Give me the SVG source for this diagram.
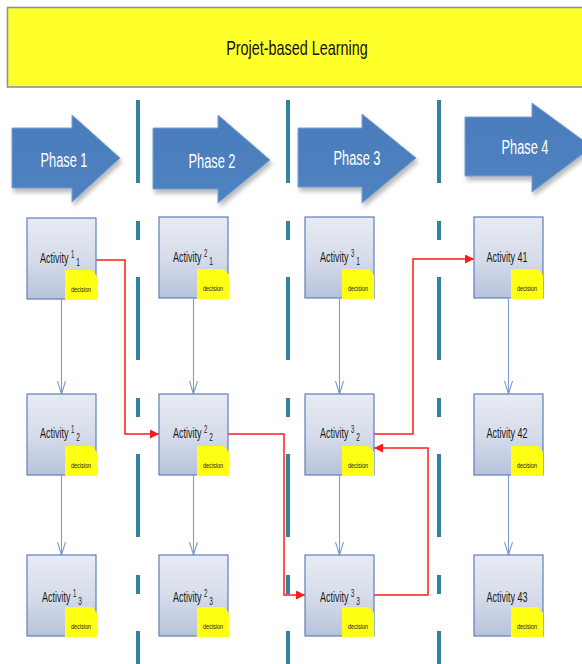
<svg xmlns="http://www.w3.org/2000/svg" width="582" height="664" viewBox="0 0 582 664">
<defs>
<style>
.t{font-family:"Liberation Sans",Arial,sans-serif;}
.sep{stroke:#31849b;stroke-width:4;stroke-dasharray:83 38 19 37;fill:none}
.phase{fill:url(#ag);stroke:#7aa0d4;stroke-width:1;filter:url(#sh)}
.ptxt{fill:#ffffff;font-size:20px;text-anchor:middle}
.box{fill:url(#bg);stroke:#5f7fb8;stroke-width:1.2}
.note{fill:#ffff14}
.atxt{fill:#1a1a1a;font-size:15px;text-anchor:middle}
.dtxt{fill:#1a1a1a;font-size:8px;text-anchor:middle}
.blue{stroke:#7b9bd0;stroke-width:1.1;fill:none;marker-end:url(#openV)}
.red{stroke:#ff1a1a;stroke-width:1.5;fill:none;marker-end:url(#redA)}
</style>
<linearGradient id="ag" x1="0" y1="0" x2="0" y2="1">
<stop offset="0" stop-color="#4a7cbb"/>
<stop offset="1" stop-color="#4f82c0"/>
</linearGradient>
<linearGradient id="bg" x1="0" y1="0" x2="0" y2="1">
<stop offset="0" stop-color="#e8ebf3"/>
<stop offset="0.5" stop-color="#d6dcea"/>
<stop offset="1" stop-color="#b7c3db"/>
</linearGradient>
<filter id="sh" x="-10%" y="-10%" width="130%" height="140%">
<feDropShadow dx="2" dy="4" stdDeviation="2" flood-color="#777" flood-opacity="0.5"/>
</filter>
<marker id="openV" viewBox="0 0 14 10" refX="13" refY="5" markerWidth="14" markerHeight="10" markerUnits="userSpaceOnUse" orient="auto">
<path d="M0,1 L13,5 L0,9" fill="none" stroke="#7b9bd0" stroke-width="1.1"/>
</marker>
<marker id="redA" viewBox="0 0 10 10" refX="10" refY="5" markerWidth="10" markerHeight="9" markerUnits="userSpaceOnUse" orient="auto">
<path d="M0,0 L10,5 L0,10 Z" fill="#ff1a1a"/>
</marker>
</defs>
<rect width="582" height="664" fill="#ffffff"/>

<g id="title">
<rect x="7.5" y="7.5" width="590" height="79.5" fill="#ffff2a" stroke="#7f8fa6" stroke-width="1.5"/>
<text class="t" transform="translate(297,55) scale(0.72,1)" font-size="20" text-anchor="middle" fill="#111">Projet-based Learning</text>
</g>

<g id="separators">
<line class="sep" x1="138" y1="100" x2="138" y2="664"/>
<line class="sep" x1="288" y1="100" x2="288" y2="664"/>
<line class="sep" x1="439" y1="100" x2="439" y2="664"/>
</g>

<g id="phase1">
<path class="phase" d="M12,128 H72 V115 L120,158 L72,202 V188 H12 Z"/>
<text class="t ptxt" transform="translate(64,167) scale(0.64,1)">Phase 1</text>
</g>
<g id="phase2">
<path class="phase" d="M153,128 H218 V115 L270,160 L218,203 V189 H153 Z"/>
<text class="t ptxt" transform="translate(212,168) scale(0.64,1)">Phase 2</text>
</g>
<g id="phase3">
<path class="phase" d="M298,128 H362 V114 L416,158 L362,203 V187 H298 Z"/>
<text class="t ptxt" transform="translate(357,165) scale(0.64,1)">Phase 3</text>
</g>
<g id="phase4">
<path class="phase" d="M465,117 H532 V103 L592,147 L532,192 V176 H465 Z"/>
<text class="t ptxt" transform="translate(525,154) scale(0.64,1)">Phase 4</text>
</g>

<g id="connectors">
<path class="blue" d="M61.5,299 V394"/>
<path class="blue" d="M61.5,475 V555"/>
<path class="blue" d="M193.5,299 V394"/>
<path class="blue" d="M193.5,475 V555"/>
<path class="blue" d="M339.5,299 V394"/>
<path class="blue" d="M339.5,475 V555"/>
<path class="blue" d="M508.5,299 V394"/>
<path class="blue" d="M508.5,475 V555"/>
<path class="red" d="M96,260 H125 V434 H159"/>
<path class="red" d="M228,434 H284 V595 H305"/>
<path class="red" d="M374,595 H428 V448 H374"/>
<path class="red" d="M374,434 H413 V259 H474"/>
</g>

<g id="a11">
<rect class="box" x="27" y="218" width="69" height="81"/>
<path class="note" d="M65,270 H92 L97,276 V300 H65 Z"/>
<text class="t atxt" transform="translate(60,263) scale(0.6,1)">Activity <tspan font-size="10" dy="-5">1</tspan><tspan font-size="11" dy="8"> 1</tspan></text>
<text class="t dtxt" transform="translate(81,292) scale(0.69,1)">decision</text>
</g>
<g id="a12">
<rect class="box" x="27" y="394" width="69" height="81"/>
<path class="note" d="M65,446 H92 L97,452 V476 H65 Z"/>
<text class="t atxt" transform="translate(60,438) scale(0.6,1)">Activity <tspan font-size="10" dy="-5">1</tspan><tspan font-size="11" dy="8"> 2</tspan></text>
<text class="t dtxt" transform="translate(81,468) scale(0.69,1)">decision</text>
</g>
<g id="a13">
<rect class="box" x="27" y="555" width="69" height="81"/>
<path class="note" d="M65,607 H92 L97,613 V637 H65 Z"/>
<text class="t atxt" transform="translate(62,602) scale(0.6,1)">Activity <tspan font-size="10" dy="-5">1</tspan><tspan font-size="11" dy="8"> 3</tspan></text>
<text class="t dtxt" transform="translate(81,629) scale(0.69,1)">decision</text>
</g>

<g id="a21">
<rect class="box" x="159" y="217" width="69" height="81"/>
<path class="note" d="M197,269 H224 L229,275 V299 H197 Z"/>
<text class="t atxt" transform="translate(193,262) scale(0.6,1)">Activity <tspan font-size="10" dy="-5">2</tspan><tspan font-size="11" dy="8"> 1</tspan></text>
<text class="t dtxt" transform="translate(213,291) scale(0.69,1)">decision</text>
</g>
<g id="a22">
<rect class="box" x="159" y="394" width="69" height="81"/>
<path class="note" d="M197,446 H224 L229,452 V476 H197 Z"/>
<text class="t atxt" transform="translate(193,438) scale(0.6,1)">Activity <tspan font-size="10" dy="-5">2</tspan><tspan font-size="11" dy="8"> 2</tspan></text>
<text class="t dtxt" transform="translate(213,468) scale(0.69,1)">decision</text>
</g>
<g id="a23">
<rect class="box" x="159" y="555" width="69" height="81"/>
<path class="note" d="M197,607 H224 L229,613 V637 H197 Z"/>
<text class="t atxt" transform="translate(193,602) scale(0.6,1)">Activity <tspan font-size="10" dy="-5">2</tspan><tspan font-size="11" dy="8"> 3</tspan></text>
<text class="t dtxt" transform="translate(213,629) scale(0.69,1)">decision</text>
</g>

<g id="a31">
<rect class="box" x="305" y="217" width="69" height="81"/>
<path class="note" d="M342,269 H369 L374,275 V299 H342 Z"/>
<text class="t atxt" transform="translate(340,262) scale(0.6,1)">Activity <tspan font-size="10" dy="-5">3</tspan><tspan font-size="11" dy="8"> 1</tspan></text>
<text class="t dtxt" transform="translate(358,291) scale(0.69,1)">decision</text>
</g>
<g id="a32">
<rect class="box" x="305" y="394" width="69" height="81"/>
<path class="note" d="M342,446 H369 L374,452 V476 H342 Z"/>
<text class="t atxt" transform="translate(340,438) scale(0.6,1)">Activity <tspan font-size="10" dy="-5">3</tspan><tspan font-size="11" dy="8"> 2</tspan></text>
<text class="t dtxt" transform="translate(358,468) scale(0.69,1)">decision</text>
</g>
<g id="a33">
<rect class="box" x="305" y="555" width="69" height="81"/>
<path class="note" d="M342,607 H369 L374,613 V637 H342 Z"/>
<text class="t atxt" transform="translate(340,602) scale(0.6,1)">Activity <tspan font-size="10" dy="-5">3</tspan><tspan font-size="11" dy="8"> 3</tspan></text>
<text class="t dtxt" transform="translate(358,629) scale(0.69,1)">decision</text>
</g>

<g id="a41">
<rect class="box" x="474" y="217" width="69" height="81"/>
<path class="note" d="M511,269 H538 L543,275 V299 H511 Z"/>
<text class="t atxt" transform="translate(507,262) scale(0.6,1)">Activity 41</text>
<text class="t dtxt" transform="translate(527,291) scale(0.69,1)">decision</text>
</g>
<g id="a42">
<rect class="box" x="474" y="394" width="69" height="81"/>
<path class="note" d="M511,446 H538 L543,452 V476 H511 Z"/>
<text class="t atxt" transform="translate(507,438) scale(0.6,1)">Activity 42</text>
<text class="t dtxt" transform="translate(527,468) scale(0.69,1)">decision</text>
</g>
<g id="a43">
<rect class="box" x="474" y="555" width="69" height="81"/>
<path class="note" d="M511,607 H538 L543,613 V637 H511 Z"/>
<text class="t atxt" transform="translate(507,602) scale(0.6,1)">Activity 43</text>
<text class="t dtxt" transform="translate(527,629) scale(0.69,1)">decision</text>
</g>
</svg>
